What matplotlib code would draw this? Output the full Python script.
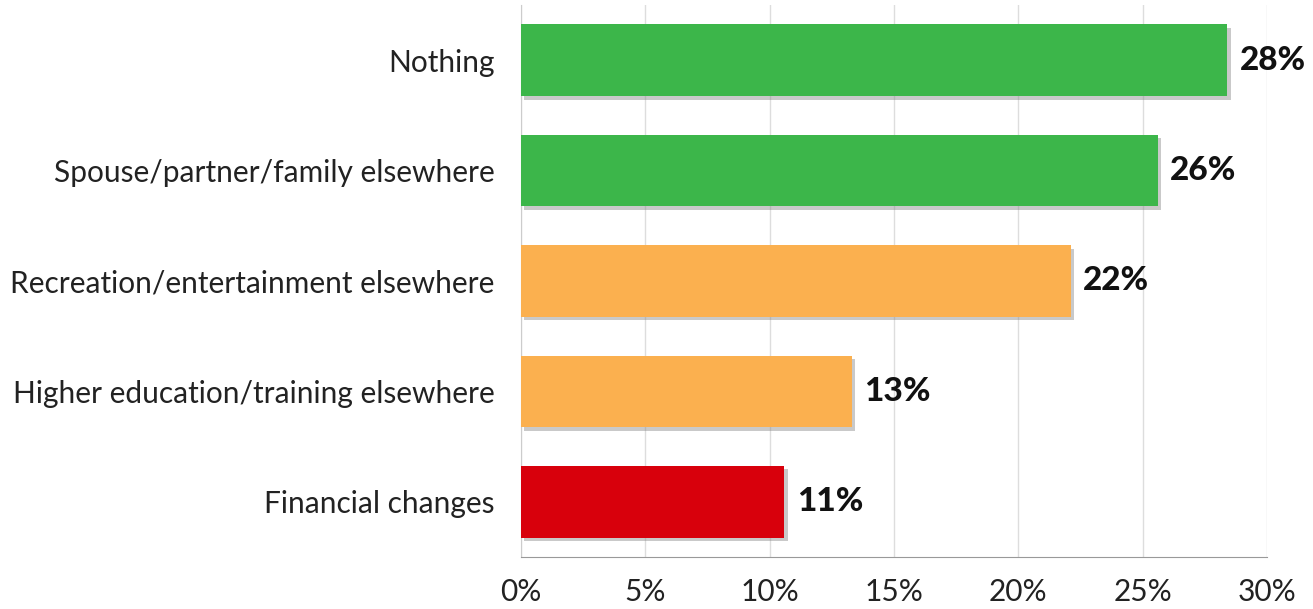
import matplotlib
matplotlib.use("Agg")
import matplotlib.pyplot as plt
import matplotlib.patheffects as pe
from matplotlib.ticker import FuncFormatter

# Survey answers, top to bottom
categories = [
    "Nothing",
    "Spouse/partner/family elsewhere",
    "Recreation/entertainment elsewhere",
    "Higher education/training elsewhere",
    "Financial changes",
]
shares = [28.4, 25.6, 22.1, 13.3, 10.6]
colors = ["#3cb64a", "#3cb64a", "#fbb04f", "#fbb04f", "#d8000c"]
xticks = [0, 5, 10, 15, 20, 25, 30]

plt.rcParams["font.family"] = ["Lato", "DejaVu Sans"]

fig = plt.figure(figsize=(13.13, 6.09), dpi=100)
ax = fig.add_axes([0.3966, 0.0854, 0.5685, 0.9064])

ypos = list(range(len(categories)))
bars = ax.barh(ypos, shares, height=0.65, color=colors, zorder=3)
for b in bars:
    b.set_path_effects([
        pe.SimplePatchShadow(offset=(2.5, -2.5), shadow_rgbFace="#888888", alpha=0.45),
        pe.Normal(),
    ])

for y, v in zip(ypos, shares):
    ax.text(v + 0.5, y, f"{v:.0f}%", va="center", ha="left",
            fontsize=24, fontweight="black", color="#111111", zorder=4)

ax.set_xlim(0, 30)
ax.set_ylim(len(categories) - 0.5, -0.5)
ax.set_xticks(xticks)
ax.xaxis.set_major_formatter(FuncFormatter(lambda v, p: f"{v:.0f}%"))
ax.set_yticks(ypos)
ax.set_yticklabels(categories)
ax.tick_params(axis="x", length=0, pad=15, labelsize=21.5, labelcolor="#222222")
ax.tick_params(axis="y", length=0, pad=19, labelsize=21.5, labelcolor="#222222")

ax.grid(axis="x", color="#dddddd", linewidth=1, zorder=0)
for s in ("top", "right"):
    ax.spines[s].set_visible(False)
ax.spines["left"].set_color("#cccccc")
ax.spines["bottom"].set_color("#999999")

fig.savefig("out.png", dpi=100)
